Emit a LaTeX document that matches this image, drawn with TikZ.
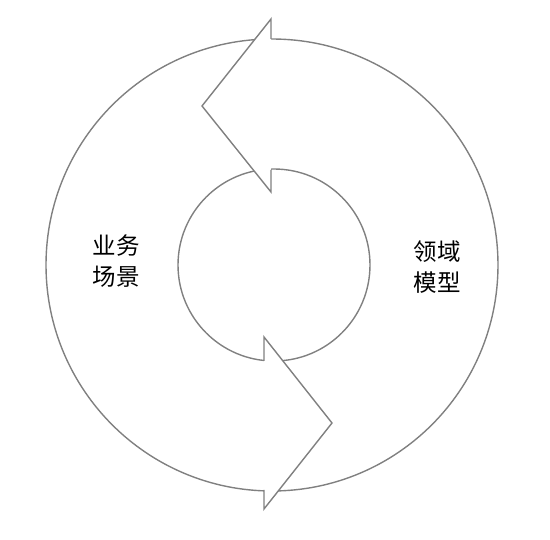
\documentclass[tikz,border=0pt]{standalone}
\usepackage{fontspec}
\newfontfamily\cjk{Noto Sans CJK SC}
\usetikzlibrary{positioning}
\definecolor{ringc}{RGB}{128,128,128}

\begin{document}
\begin{tikzpicture}[x=1pt, y=-1pt,
  ring/.style = {draw=ringc, line width=1.4pt, line join=miter},
  mask/.style = {fill=white, draw=none},
  lbl/.style  = {align=center, font=\fontsize{23.5}{30.5}\selectfont\cjk, inner sep=0pt}
]
\useasboundingbox (0,0) rectangle (550,540);
% ring
\draw[ring] (272,265) circle[radius=226pt];
\draw[ring] (274,265) circle[radius=96pt];
% top head, pointing left
\fill[mask] (271,19) -- (202,106) -- (271,192) -- cycle;
\draw[ring] (271,39) -- (271,19) -- (202,106) -- (271,192) -- (271,170);
% bottom head, pointing right
\fill[mask] (264,337) -- (332,423) -- (264,509) -- cycle;
\draw[ring] (264,361) -- (264,337) -- (332,423) -- (264,509) -- (264,490);
% labels
\node[lbl] (scene) at (116,261) {业务\\场景};
\node[lbl] (model) at (437,267) {领域\\模型};
\end{tikzpicture}
\end{document}
